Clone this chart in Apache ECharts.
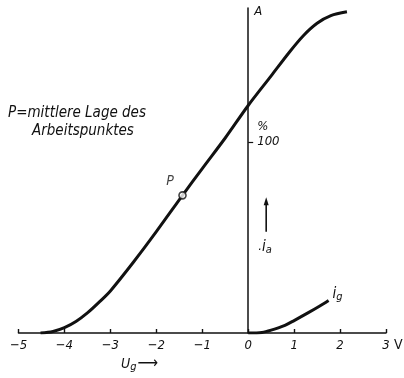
<!DOCTYPE html>
<html>
<head>
<meta charset="utf-8">
<script src="https://cdn.jsdelivr.net/npm/echarts@6/dist/echarts.min.js"></script>
<style>
  html, body { margin: 0; padding: 0; background: #fff; }
  #chart { width: 404px; height: 378px; }
</style>
</head>
<body>
<div id="chart"></div>
<script>
// Grid voltage axis (V) and its tick labels
const voltTicks = [-5, -4, -3, -2, -1, 0, 1, 2, 3];
const voltTickLabels = ['\u22125', '\u22124', '\u22123', '\u22122', '\u22121', '0', '1', '2', '3'];

// Anode current i_a (% of operating value) versus grid voltage U_g
const anodeU = [-4.52, -4.25, -4.0, -3.75, -3.5, -3.25, -3.0, -2.5, -2.0, -1.43, -1.0, -0.5, 0.0, 0.5, 0.9, 1.2, 1.5, 1.8, 2.15];
const anodeI = [0, 0.8, 2.8, 6, 10.5, 16, 22, 37, 53, 72, 86, 102, 119, 134.5, 147, 155.5, 162, 166, 168];

// Grid current i_g versus grid voltage U_g
const gridU = [0.0, 0.3, 0.5, 0.8, 1.0, 1.3, 1.55, 1.75];
const gridI = [0, 0.3, 1.5, 4, 6.5, 10.5, 14, 17];

// Operating point P
const pointP = [-1.43, 72];

// Percent scale mark on the current axis
const percentTicks = [100];
const percentLabels = ['100'];

const FONT = "'Liberation Sans Narrow', 'DejaVu Sans Condensed', 'Liberation Sans', sans-serif";
const INK = '#111';

const chart = echarts.init(document.getElementById('chart'), null, { renderer: 'canvas' });

const zip = (xs, ys) => xs.map((x, i) => [x, ys[i]]);

chart.setOption({
  backgroundColor: '#fff',
  animation: false,
  grid: { left: 18.5, right: 18, top: 8, bottom: 45 },
  xAxis: {
    type: 'value',
    min: -5, max: 3, interval: 1,
    axisLine: { onZero: false, lineStyle: { color: INK, width: 1.5 } },
    axisTick: { inside: true, length: 4, lineStyle: { color: INK, width: 1.4 } },
    axisLabel: {
      margin: 6,
      color: INK,
      fontFamily: FONT,
      fontStyle: 'italic',
      fontSize: 13,
      formatter: v => voltTickLabels[voltTicks.indexOf(v)] ?? ''
    },
    splitLine: { show: false }
  },
  yAxis: {
    type: 'value',
    min: 0, max: 170,
    axisLine: { show: true, onZero: true, lineStyle: { color: INK, width: 1.5 } },
    axisTick: { show: true, inside: true, length: 5, customValues: percentTicks, lineStyle: { color: INK, width: 1.2 } },
    axisLabel: { show: false },
    splitLine: { show: false }
  },
  series: [
    {
      name: 'i_a',
      type: 'line',
      data: zip(anodeU, anodeI),
      smooth: 0.3,
      showSymbol: false,
      lineStyle: { color: INK, width: 3 },
      z: 3
    },
    {
      name: 'i_g',
      type: 'line',
      data: zip(gridU, gridI),
      smooth: 0.3,
      showSymbol: false,
      lineStyle: { color: INK, width: 3 },
      z: 3
    },
    {
      name: 'P',
      type: 'scatter',
      data: [pointP],
      symbol: 'circle',
      symbolSize: 7,
      itemStyle: { color: '#fff', borderColor: INK, borderWidth: 1.6 },
      label: {
        show: true,
        formatter: 'P',
        position: [-12, -17],
        color: INK, fontFamily: FONT, fontStyle: 'italic', fontSize: 14
      },
      z: 5
    }
  ]
});

// Annotations anchored to data positions on the axes
const px = (u, i) => chart.convertToPixel({ gridIndex: 0 }, [u, i]);
const italic = (size) => 'italic ' + size + 'px ' + FONT;

const aTop = px(0, 168);
const pct = px(0, 108);
const pctTick = px(0, percentTicks[0]);
const arrowBase = px(0, 53);
const arrowTip = px(0, 70);
const iaLbl = px(0, 45);
const igEnd = px(gridU[gridU.length - 1], gridI[gridI.length - 1]);
const axisEnd = px(3, 0);

chart.setOption({
  graphic: [
    { type: 'text', x: aTop[0] + 6, y: aTop[1], style: { text: 'A', fill: INK, font: italic(13), textVerticalAlign: 'middle' } },
    { type: 'text', x: pct[0] + 9, y: pct[1], style: { text: '%', fill: INK, font: italic(13), textVerticalAlign: 'middle' } },
    { type: 'text', x: pctTick[0] + 9, y: pctTick[1], style: { text: percentLabels[0], fill: INK, font: italic(13), textVerticalAlign: 'middle' } },
    // upward arrow for i_a
    { type: 'line', shape: { x1: arrowBase[0] + 18, y1: arrowBase[1], x2: arrowTip[0] + 18, y2: arrowTip[1] + 4 }, style: { stroke: INK, lineWidth: 1.6 } },
    { type: 'polygon', shape: { points: [[arrowTip[0] + 18, arrowTip[1] - 2], [arrowTip[0] + 15.5, arrowTip[1] + 6], [arrowTip[0] + 20.5, arrowTip[1] + 6]] }, style: { fill: INK } },
    {
      type: 'text', x: iaLbl[0] + 10, y: iaLbl[1],
      style: {
        text: '.{i|i}{s|a}', textVerticalAlign: 'middle', fill: INK, font: italic(13),
        rich: { i: { font: italic(15), fill: INK }, s: { font: italic(11), fill: INK, padding: [6, 0, 0, 0] } }
      }
    },
    {
      type: 'text', x: igEnd[0] + 4, y: igEnd[1] - 6,
      style: {
        text: '{i|i}{s|g}', textVerticalAlign: 'middle', fill: INK, font: italic(13),
        rich: { i: { font: italic(15), fill: INK }, s: { font: italic(11), fill: INK, padding: [6, 0, 0, 0] } }
      }
    },
    { type: 'text', x: axisEnd[0] + 8, y: axisEnd[1] + 12, style: { text: 'V', fill: INK, font: '14px ' + FONT, textVerticalAlign: 'middle' } },
    {
      type: 'text', x: 121, y: 364,
      style: {
        text: '{u|U}{s|g}{a|\u27F6}', textVerticalAlign: 'middle', fill: INK,
        rich: {
          u: { font: italic(14), fill: INK },
          s: { font: italic(11), fill: INK, padding: [7, 0, 0, 0] },
          a: { font: '16px ' + FONT, fill: INK, padding: [0, 0, 0, 1] }
        }
      }
    },
    { type: 'text', x: 8, y: 113, style: { text: 'P=mittlere Lage des', fill: INK, font: italic(15), textVerticalAlign: 'middle' } },
    { type: 'text', x: 32, y: 131, style: { text: 'Arbeitspunktes', fill: INK, font: italic(15), textVerticalAlign: 'middle' } }
  ]
});
</script>
</body>
</html>
